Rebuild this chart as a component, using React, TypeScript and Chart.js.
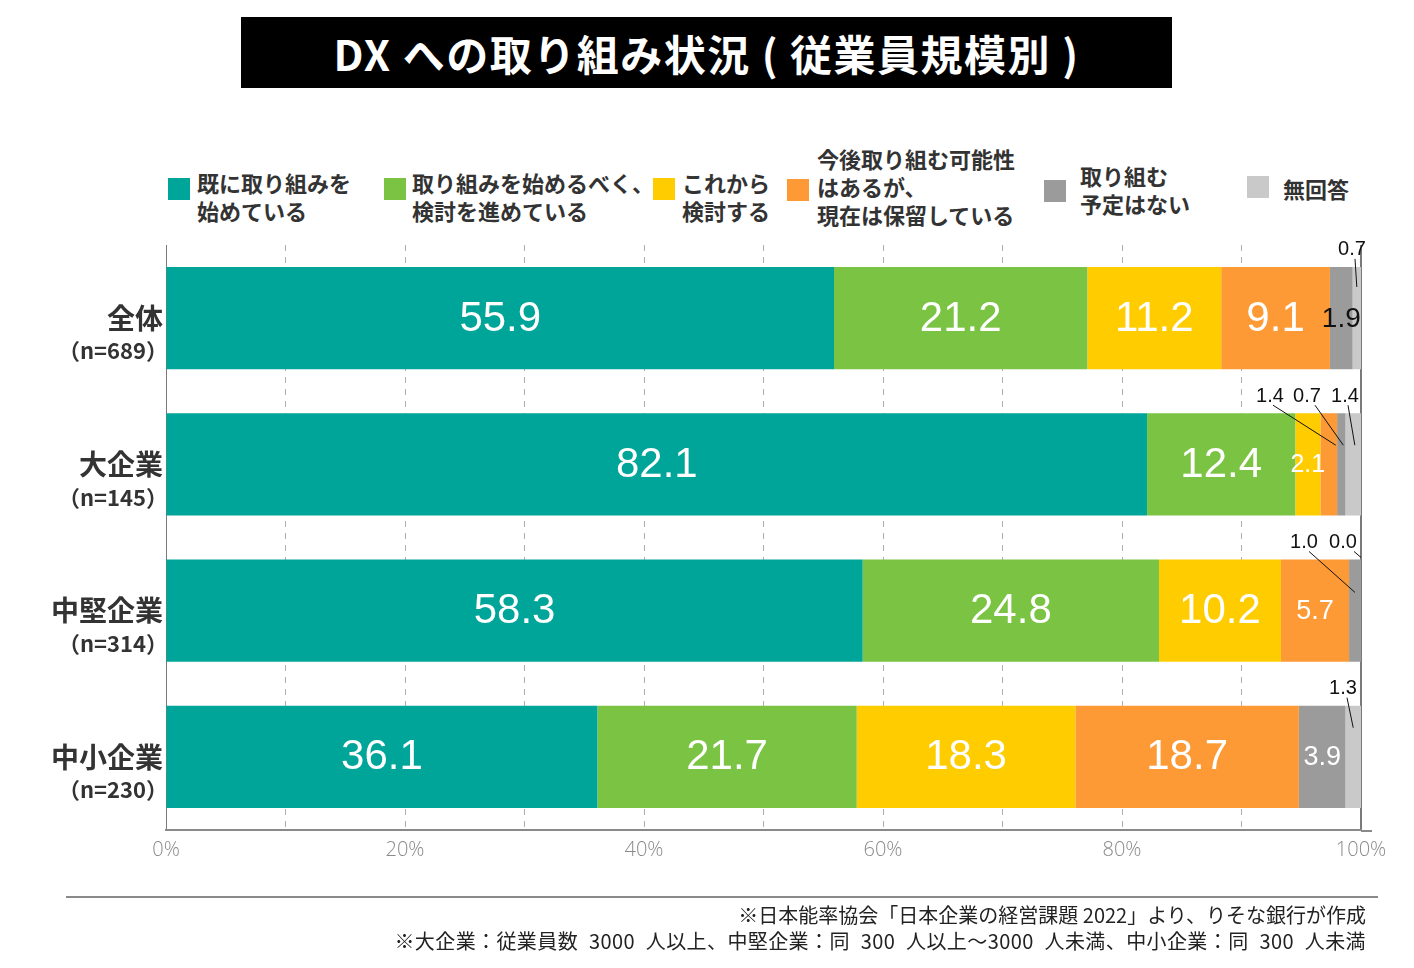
import React, { useEffect, useRef } from "react";
import { Chart, registerables } from "chart.js";

Chart.register(...registerables);

const categories = ["全体", "大企業", "中堅企業", "中小企業"];
const sampleSizes = ["（n=689）", "（n=145）", "（n=314）", "（n=230）"];
const seriesNames = [
  "既に取り組みを\n始めている",
  "取り組みを始めるべく、\n検討を進めている",
  "これから\n検討する",
  "今後取り組む可能性\nはあるが、\n現在は保留している",
  "取り組む\n予定はない",
  "無回答",
];
const seriesColors = ["#00A599", "#7BC443", "#FFCC00", "#FD9A35", "#9B9B9B", "#C9C9C9"];
const startedValues = [55.9, 82.1, 58.3, 36.1];
const consideringValues = [21.2, 12.4, 24.8, 21.7];
const fromNowValues = [11.2, 2.1, 10.2, 18.3];
const onHoldValues = [9.1, 1.4, 5.7, 18.7];
const noPlanValues = [1.9, 0.7, 1.0, 3.9];
const noAnswerValues = [0.7, 1.4, 0.0, 1.3];
const seriesValues = [startedValues, consideringValues, fromNowValues, onHoldValues, noPlanValues, noAnswerValues];
const xTickValues = [0, 20, 40, 60, 80, 100];

// label styling (row, dataset)
const insideStyles: Record<string, { size: number; color: string }> = {
  "0-4": { size: 28, color: "#111" },
  "1-2": { size: 25, color: "#fff" },
  "2-3": { size: 27, color: "#fff" },
  "3-4": { size: 27, color: "#fff" },
};
const outsideLabels = [
  { row: 0, ds: 5, dx: -9, sx: 3, ex: 0, ey: 20 },
  { row: 1, ds: 3, dx: -91, sx: 3, ex: 7, ey: 32 },
  { row: 1, ds: 4, dx: -54, sx: 8, ex: 2, ey: 32 },
  { row: 1, ds: 5, dx: -16, sx: 3, ex: 1, ey: 32 },
  { row: 2, ds: 4, dx: -57, sx: 5, ex: 0, ey: 33 },
  { row: 2, ds: 5, dx: -18, sx: 11, ex: 0, ey: -2 },
  { row: 3, ds: 5, dx: -18, sx: 4, ex: 0, ey: 22 },
];

const NUM_FONT = '"Liberation Sans", Arial, sans-serif';
const JP_FONT = '"Noto Sans CJK JP", "Noto Sans", sans-serif';

const labelPlugin = {
  id: "labels",
  afterDatasetsDraw(chart: any) {
    const ctx = chart.ctx;
    const xs = chart.scales.x;
    const ys = chart.scales.y;
    const right = xs.getPixelForValue(100);
    ctx.save();
    // bottom axis extension beyond 100%
    ctx.strokeStyle = "#8a8a8a";
    ctx.lineWidth = 2;
    ctx.beginPath();
    ctx.moveTo(right, chart.chartArea.bottom + 1);
    ctx.lineTo(right + 11, chart.chartArea.bottom + 1);
    ctx.stroke();
    // inside labels
    chart.data.datasets.forEach((ds: any, di: number) => {
      const meta = chart.getDatasetMeta(di);
      meta.data.forEach((el: any, ri: number) => {
        if (outsideLabels.some((o) => o.row === ri && o.ds === di)) return;
        const v = ds.data[ri];
        const st = insideStyles[`${ri}-${di}`] || { size: 42, color: "#fff" };
        ctx.font = `${st.size}px ${NUM_FONT}`;
        ctx.fillStyle = st.color;
        ctx.textAlign = "center";
        ctx.textBaseline = "middle";
        ctx.fillText(v.toFixed(1), (el.x + el.base) / 2, el.y + 1);
      });
    });
    // outside labels with leader lines
    outsideLabels.forEach((o) => {
      const el = chart.getDatasetMeta(o.ds).data[o.row];
      const top = el.y - el.height / 2;
      const tx = right + o.dx;
      const ty = top - 17;
      ctx.font = `20px ${NUM_FONT}`;
      ctx.fillStyle = "#111";
      ctx.textAlign = "center";
      ctx.textBaseline = "middle";
      ctx.fillText(chart.data.datasets[o.ds].data[o.row].toFixed(1), tx, ty);
      ctx.beginPath();
      ctx.strokeStyle = "#111";
      ctx.lineWidth = 1;
      ctx.moveTo(tx + o.sx, ty + 9);
      ctx.lineTo((el.x + el.base) / 2 + o.ex, top + o.ey);
      ctx.stroke();
    });
    // category labels
    categories.forEach((c, i) => {
      const y = ys.getPixelForValue(i);
      ctx.textAlign = "right";
      ctx.textBaseline = "middle";
      ctx.fillStyle = "#333";
      ctx.font = `bold 28px ${JP_FONT}`;
      ctx.fillText(c, 163, y);
      ctx.font = `bold 22px ${JP_FONT}`;
      ctx.fillText(sampleSizes[i], 168, y + 33);
    });
    ctx.restore();
  },
};

const legendPos = [
  { sx: 168, sy: 178, tx: 197, ty: 168 },
  { sx: 384, sy: 178, tx: 412, ty: 168 },
  { sx: 653, sy: 178, tx: 682, ty: 168 },
  { sx: 787, sy: 179, tx: 817, ty: 144 },
  { sx: 1044, sy: 180, tx: 1080, ty: 161 },
  { sx: 1247, sy: 176, tx: 1283, ty: 174 },
];

export default function App() {
  const ref = useRef<HTMLCanvasElement>(null);
  useEffect(() => {
    if (!ref.current) return;
    const chart = new Chart(ref.current, {
      type: "bar",
      data: {
        labels: categories,
        datasets: seriesValues.map((vals, i) => ({
          label: seriesNames[i],
          data: vals,
          backgroundColor: seriesColors[i],
          borderWidth: 0,
          barPercentage: 0.7,
          categoryPercentage: 1,
        })),
      },
      options: {
        indexAxis: "y",
        animation: false,
        responsive: false,
        layout: { padding: { left: 166, right: 53, top: 245, bottom: 98 } },
        plugins: { legend: { display: false }, tooltip: { enabled: false }, title: { display: false } },
        scales: {
          x: {
            stacked: true,
            min: 0,
            max: 100,
            afterBuildTicks: (axis: any) => {
              const t: any[] = [];
              for (let v = 0; v <= 100; v += 10) t.push({ value: v });
              axis.ticks = t;
            },
            ticks: {
              padding: 8,
              color: "#8a8a8a",
              font: { size: 20, family: '"Open Sans", sans-serif', weight: "300" as any },
              callback: (v: any) => (xTickValues.includes(Number(v)) ? `${v}%` : ""),
              autoSkip: false,
              maxRotation: 0,
            },
            grid: {
              drawTicks: false,
              color: (c: any) => (c.tick && (c.tick.value === 0 || c.tick.value === 100) ? "#7a7a7a" : "#b0b0b0"),
              lineWidth: (c: any) => (c.tick && c.tick.value === 100 ? 2 : 1),
            },
            border: {
              display: true,
              color: "#8a8a8a",
              width: 2,
              dash: (c: any) => (c.tick && (c.tick.value === 0 || c.tick.value === 100) ? [] : [6, 6]),
            } as any,
          },
          y: {
            stacked: true,
            display: false,
          },
        },
      },
      plugins: [labelPlugin],
    } as any);
    return () => chart.destroy();
  }, []);

  return (
    <div style={{ position: "absolute", left: 0, top: 0, width: 1414, height: 968, background: "#fff", overflow: "hidden" }}>
      <div
        style={{
          position: "absolute",
          left: 241,
          top: 17,
          width: 931,
          height: 71,
          background: "#000",
          color: "#fff",
          fontFamily: JP_FONT,
          fontWeight: 700,
          fontSize: 42,
          letterSpacing: 1.5,
          lineHeight: "71px",
          textAlign: "center",
        }}
      >
        DX への取り組み状況 ( 従業員規模別 )
      </div>
      {seriesNames.map((n, i) => (
        <React.Fragment key={i}>
          <div
            style={{
              position: "absolute",
              left: legendPos[i].sx,
              top: legendPos[i].sy,
              width: 22,
              height: 22,
              background: seriesColors[i],
            }}
          />
          <div
            style={{
              position: "absolute",
              left: legendPos[i].tx,
              top: legendPos[i].ty,
              whiteSpace: "pre",
              fontFamily: JP_FONT,
              fontWeight: 700,
              fontSize: 22,
              lineHeight: "28px",
              color: "#333",
            }}
          >
            {n}
          </div>
        </React.Fragment>
      ))}
      <canvas ref={ref} width={1414} height={968} style={{ position: "absolute", left: 0, top: 0 }} />
      <div style={{ position: "absolute", left: 66, top: 896, width: 1312, height: 2, background: "#8a8a8a" }} />
      <div
        style={{
          position: "absolute",
          right: 1414 - 1366,
          top: 902,
          textAlign: "right",
          fontFamily: JP_FONT,
          fontSize: 20,
          lineHeight: "26px",
          color: "#222",
          whiteSpace: "pre",
        }}
      >
        <div>※日本能率協会「日本企業の経営課題 2022」より、りそな銀行が作成</div>
        <div style={{ wordSpacing: 6, letterSpacing: 0.4 }}>
          ※大企業：従業員数 3000 人以上、中堅企業：同 300 人以上～3000 人未満、中小企業：同 300 人未満
        </div>
      </div>
    </div>
  );
}
